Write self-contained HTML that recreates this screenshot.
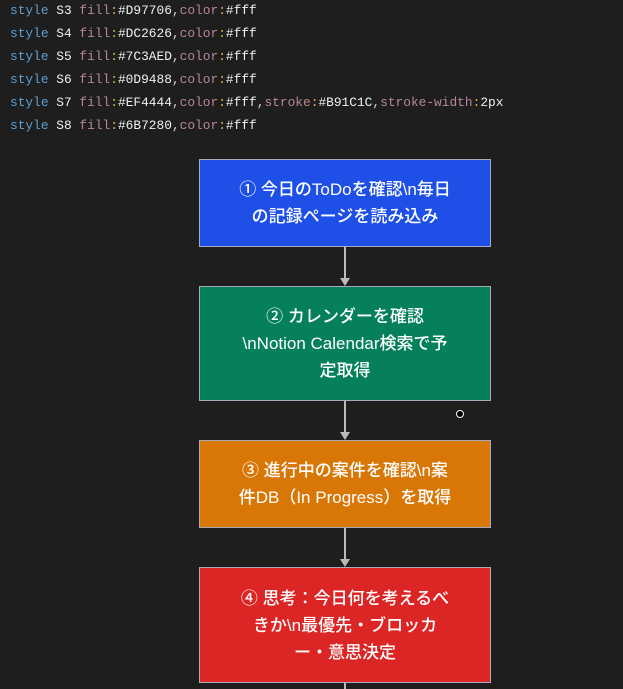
<!DOCTYPE html>
<html><head><meta charset="utf-8"><style>
body{margin:0;width:623px;height:689px;background:#1e1e1e;overflow:hidden;position:relative;font-family:"Liberation Sans","Noto Sans CJK JP",sans-serif}
.code{position:absolute;left:10px;top:-1px;font-family:"Liberation Mono",monospace;font-size:12.85px;line-height:23px;color:#d4d4d4;white-space:pre}
.k{color:#5f9ecf}.p{color:#b8869a}.c{color:#e0b050}.v{color:#f0f0f0}
.box{position:absolute;left:199px;width:292px;box-sizing:border-box;border:1.5px solid #aab;color:#fff;display:flex;align-items:center;justify-content:center;text-align:center;font-size:17px;line-height:27px;font-weight:500;white-space:nowrap}
.line{position:absolute;left:344px;width:1.5px;background:#bbb}
.arr{position:absolute;left:340px;width:0;height:0;border-left:5px solid transparent;border-right:5px solid transparent;border-top:8px solid #bbb}
</style></head><body>
<div class="code"><span class="k">style</span> <span class="v">S3</span> <span class="p">fill</span><span class="c">:</span><span class="v">#D97706</span>,<span class="p">color</span><span class="c">:</span><span class="v">#fff</span>
<span class="k">style</span> <span class="v">S4</span> <span class="p">fill</span><span class="c">:</span><span class="v">#DC2626</span>,<span class="p">color</span><span class="c">:</span><span class="v">#fff</span>
<span class="k">style</span> <span class="v">S5</span> <span class="p">fill</span><span class="c">:</span><span class="v">#7C3AED</span>,<span class="p">color</span><span class="c">:</span><span class="v">#fff</span>
<span class="k">style</span> <span class="v">S6</span> <span class="p">fill</span><span class="c">:</span><span class="v">#0D9488</span>,<span class="p">color</span><span class="c">:</span><span class="v">#fff</span>
<span class="k">style</span> <span class="v">S7</span> <span class="p">fill</span><span class="c">:</span><span class="v">#EF4444</span>,<span class="p">color</span><span class="c">:</span><span class="v">#fff</span>,<span class="p">stroke</span><span class="c">:</span><span class="v">#B91C1C</span>,<span class="p">stroke-width</span><span class="c">:</span><span class="v">2px</span>
<span class="k">style</span> <span class="v">S8</span> <span class="p">fill</span><span class="c">:</span><span class="v">#6B7280</span>,<span class="p">color</span><span class="c">:</span><span class="v">#fff</span></div>

<div class="box" style="top:159px;height:88px;background:#1e50e8">① 今日のToDoを確認\n毎日<br>の記録ページを読み込み</div>
<div class="line" style="top:247px;height:32px"></div><div class="arr" style="top:278px"></div>
<div class="box" style="top:286px;height:115px;background:#05805a">② カレンダーを確認<br>\nNotion Calendar検索で予<br>定取得</div>
<div class="line" style="top:401px;height:32px"></div><div class="arr" style="top:432px"></div>
<div class="box" style="top:440px;height:88px;background:#d97706">③ 進行中の案件を確認\n案<br>件DB（In Progress）を取得</div>
<div class="line" style="top:528px;height:32px"></div><div class="arr" style="top:559px"></div>
<div class="box" style="top:567px;height:116px;background:#dc2626">④ 思考：今日何を考えるべ<br>きか\n最優先・ブロッカ<br>ー・意思決定</div>
<div class="line" style="top:683px;height:6px"></div>
<div style="position:absolute;left:456px;top:410px;width:6px;height:6px;border-radius:50%;border:1.5px solid #fff;background:#000"></div>
</body></html>
